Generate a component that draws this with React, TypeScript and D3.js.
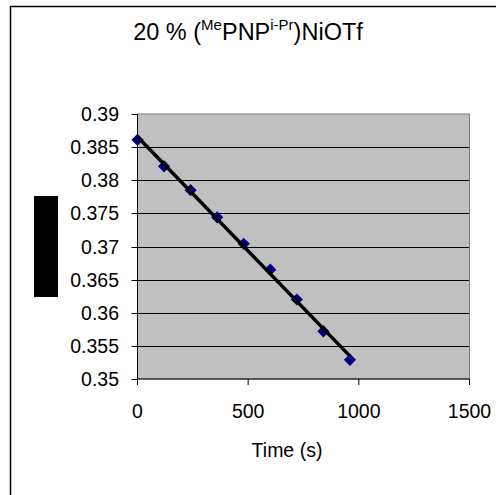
import React from "react";
import * as d3 from "d3";

const times = [0, 120, 240, 360, 480, 600, 720, 840, 960];
const values = [0.3861, 0.3821, 0.3785, 0.3744, 0.3704, 0.3665, 0.362, 0.3572, 0.3529];
const xTicks = [0, 500, 1000, 1500];
const yTicks = [0.35, 0.355, 0.36, 0.365, 0.37, 0.375, 0.38, 0.385, 0.39];
const yTickLabels = ["0.35", "0.355", "0.36", "0.365", "0.37", "0.375", "0.38", "0.385", "0.39"];
const xTitle = "Time (s)";

const W = 496;
const H = 495;
const plot = { left: 137.5, right: 469.5, top: 114, bottom: 379 };
const font = "'Liberation Sans', Arial, sans-serif";

export default function App() {
  const x = d3.scaleLinear().domain([0, 1500]).range([plot.left, plot.right]);
  const y = d3.scaleLinear().domain([0.35, 0.39]).range([plot.bottom, plot.top]);

  const mx = d3.mean(times)!;
  const my = d3.mean(values)!;
  const sxy = d3.sum(times.map((t, i) => (t - mx) * (values[i] - my)));
  const sxx = d3.sum(times.map((t) => (t - mx) * (t - mx)));
  const slope = sxy / sxx;
  const intercept = my - slope * mx;
  const ext = d3.extent(times) as [number, number];
  const trend = d3.line<number>().x((t) => x(t)).y((t) => y(intercept + slope * t))(ext);

  const diamond = d3.symbol().type(d3.symbolDiamond2).size(95)();

  return (
    <svg width={W} height={H} style={{ position: "absolute", left: 0, top: 0 }} fontFamily={font}>
      <rect x={0} y={0} width={W} height={H} fill="#fff" />
      <rect x={10.5} y={6.5} width={600} height={600} fill="none" stroke="#000" strokeWidth={1.5} />
      <text x={248} y={40} textAnchor="middle" fontSize={23.5} fill="#000">
        20 % (
        <tspan fontSize={15} dy={-10}>Me</tspan>
        <tspan dy={10}>PNP</tspan>
        <tspan fontSize={15} dy={-10}>i-Pr</tspan>
        <tspan dy={10}>)NiOTf</tspan>
      </text>
      <rect x={plot.left} y={plot.top} width={plot.right - plot.left} height={plot.bottom - plot.top} fill="#c0c0c0" />
      {yTicks.slice(1, -1).map((t) => (
        <line key={t} x1={plot.left} x2={plot.right} y1={Math.round(y(t)) + 0.5} y2={Math.round(y(t)) + 0.5} stroke="#000" strokeWidth={1} />
      ))}
      <rect x={plot.left} y={plot.top} width={plot.right - plot.left} height={plot.bottom - plot.top} fill="none" stroke="#808080" strokeWidth={1} />
      <line x1={plot.left} x2={plot.left} y1={plot.top} y2={plot.bottom} stroke="#000" />
      <line x1={plot.left} x2={plot.right} y1={plot.bottom} y2={plot.bottom} stroke="#000" />
      {yTicks.map((t, i) => (
        <g key={t}>
          <line x1={plot.left - 6} x2={plot.left} y1={Math.round(y(t)) + 0.5} y2={Math.round(y(t)) + 0.5} stroke="#000" />
          <text x={119} y={y(t)} dy="0.36em" textAnchor="end" fontSize={19.5} fill="#000">
            {yTickLabels[i]}
          </text>
        </g>
      ))}
      {xTicks.map((t) => (
        <g key={t}>
          <line x1={x(t)} x2={x(t)} y1={plot.bottom} y2={plot.bottom + 6} stroke="#000" />
          <text x={x(t)} y={418} textAnchor="middle" fontSize={19.5} fill="#000">
            {t}
          </text>
        </g>
      ))}
      <text x={287} y={457} textAnchor="middle" fontSize={19.5} fill="#000">
        {xTitle}
      </text>
      <rect x={34} y={196} width={24} height={101} fill="#000" />
      {times.map((t, i) => (
        <path key={t} d={diamond || ""} transform={`translate(${x(t)},${y(values[i])})`} fill="#000080" />
      ))}
      <path d={trend || ""} stroke="#000" strokeWidth={3.5} fill="none" />
    </svg>
  );
}
